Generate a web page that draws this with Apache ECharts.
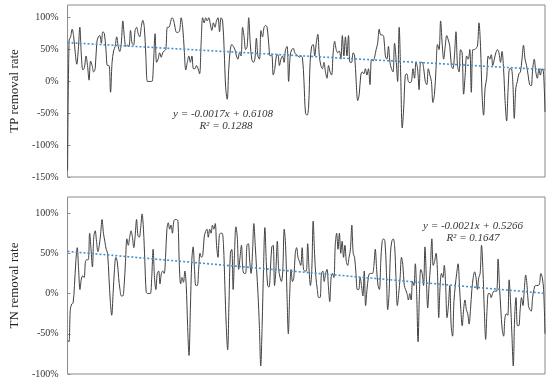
<!DOCTYPE html>
<html>
<head>
<meta charset="utf-8">
<script src="https://cdn.jsdelivr.net/npm/echarts@6/dist/echarts.min.js"></script>
<style>
  html, body { margin: 0; padding: 0; background: #fff; }
  #chart { width: 550px; height: 382px; }
</style>
</head>
<body>
<div id="chart"></div>
<script>
// TP removal rate (%) – sequential observations, left to right
const tpValues = [
  -140, 65, 70, 82, 70, 45, 27, 50, 85, 40, 18, 22, 40, 25, 2, 32, 25, 15, 20, 60,
  70, 72, 60, 78, 75, 50, 25, 25, -17, 30, 48, 55, 70, 55, 47, 60, 95, 70, 55, 57,
  55, 80, 60, 57, 80, 85, 75, 70, 85, 96, 85, 40, 0, 0, 0, 0, 30, 75, 30, 35,
  45, 38, 45, 48, 50, 85, 85, 92, 100, 97, 85, 77, 77, 80, 100, 85, 50, 18, 30, 40,
  30, 40, 20, 20, 25, 20, 12, 60, 100, 92, 100, 95, 100, 90, 80, 92, 85, 95, 100, 78,
  100, 95, 50, -10, -28, 20, 50, 58, 55, 50, 40, 35, 45, 40, 85, 70, 50, 55, 100, 60,
  35, 30, 35, 68, 40, 35, 80, 70, 85, 88, 85, 60, 40, 42, 10, 20, 40, 42, 25, 35,
  40, 30, 50, 55, 0, 40, 50, 52, 45, 42, 40, 38, 40, 37, 0, -50, -53, -40, 30, 55,
  58, 40, 60, 74, 40, 25, 20, 30, 15, 5, 25, 15, 10, 45, 63, 50, 45, 48, 35, 72,
  40, 70, 40, 72, 30, 30, 45, 40, 0, -30, -20, 10, 15, 12, 20, 10, 20, -5, 35, 32,
  38, 50, 60, 82, 73, 73, 70, 40, 35, 55, 30, 20, 15, 60, 35, 0, 85, 10, -73, -40,
  10, 12, 0, -2, 0, 20, 5, 30, 20, -13, 30, 30, 20, 0, -5, 20, 10, 0, -33, -20,
  20, 58, 50, 95, 60, 35, 55, 72, 65, 55, 25, 20, 40, 78, 25, 15, 50, 45, -20, 10,
  40, 35, 50, -17, 50, 50, 52, 55, 92, 55, -20, -53, -10, 5, 40, 35, 42, 25, 35, 45,
  50, 45, 30, 47, 20, -30, -62, -10, 20, 20, 0, -58, -10, 0, 12, 15, 35, 57, 35, 25,
  10, -5, -7, 20, 35, 15, 5, 20, 10, 20, 15, -48
];

// TN removal rate (%) – sequential observations, left to right
const tnValues = [
  -58, -60, -20, -13, -12, 10, 40, 57, 30, 5, 18, 22, 20, 40, 42, 42, 75, 55, 33, 70,
  78, 65, 52, 60, 75, 92, 75, 65, 55, 50, 20, -10, -27, 0, 30, 45, 40, 20, 5, -3,
  -3, 10, 40, 68, 60, 70, 78, 70, 57, 72, 92, 72, 70, 82, 99, 80, 40, 2, 0, 0,
  0, 20, 55, 20, 5, 25, 28, 12, 25, 28, 25, 45, 80, 88, 80, 85, 75, 90, 92, 92,
  90, 35, 12, 20, 14, 28, 10, -40, -77, -20, 40, 58, 30, 10, 10, 30, 50, 45, 48, 70,
  77, 80, 70, 80, 75, 85, 80, 87, 60, 45, 72, 75, 75, 60, 10, -40, -70, -10, 50, 55,
  5, 50, 83, 70, 30, 45, 60, 30, 25, 25, 60, 62, 40, 25, 50, 87, 60, 30, 0, -40,
  -90, -40, 30, 82, 40, 10, 8, 30, 58, 60, 10, 30, 65, 30, 20, 15, 30, 80, 60, 0,
  -50, 0, 30, 15, 20, 50, 57, 45, 40, 35, 57, 30, 28, 28, 62, 30, 10, 30, 90, 50,
  20, 5, -5, -5, 25, 28, 15, 25, 30, 10, -10, 20, 25, 20, 60, 75, 55, 75, 50, 65,
  45, 60, 40, 35, 45, 55, 85, 50, 45, 25, 5, 5, 20, 10, -3, 28, -15, 5, 20, 25,
  25, 25, 35, 55, 30, 10, 5, 40, 65, 68, 65, 30, -20, 0, 50, 65, 68, 60, 20, -15,
  0, 20, 45, 35, 10, 5, 0, -8, 0, -8, 15, 10, 37, 0, -60, 0, 30, 25, 10, 58,
  20, -18, 10, 35, 68, 35, 40, 50, 30, -30, 10, 25, 20, 35, 10, -30, -15, 10, -40, -53,
  -10, 10, 25, 37, 10, -20, -40, -20, -8, -20, -25, -38, -20, 5, 20, 27, 20, 5, 20, 25,
  60, 30, -20, -57, -20, 0, 0, -5, 0, 3, 3, 3, 43, 10, -20, -45, -53, -30, -25, -27,
  17, -10, -50, -90, -30, -5, -40, -40, -20, -5, -15, 5, 23, 10, -15, -20, -22, -5, 5, 10,
  10, 10, 12, 25, 20, 5, -50
];

// Linear trend lines (start, end) in %
const tpTrend = [60.9, 18.6];
const tnTrend = [52.4, 0.2];

// Trend equation labels
const tpEquation = ['y = -0.0017x + 0.6108', 'R² = 0.1288'];
const tnEquation = ['y = -0.0021x + 0.5266', 'R² = 0.1647'];

// Axis settings (%)
const tpAxis = { min: -150, max: 120, step: 50, name: 'TP removal rate' };
const tnAxis = { min: -100, max: 120, step: 50, name: 'TN removal rate' };

const SERIF = '"Liberation Serif", "Times New Roman", "DejaVu Serif", serif';
const toPairs = vals => vals.map((v, i) => [i, v]);

const chart = echarts.init(document.getElementById('chart'), null, { renderer: 'canvas' });

function yAxisCfg(ax, gridIndex) {
  return {
    gridIndex, type: 'value', min: ax.min, max: ax.max, interval: ax.step,
    name: ax.name, nameLocation: 'middle', nameGap: 31,
    nameTextStyle: { fontFamily: SERIF, fontSize: 13, color: '#222' },
    axisLine: { show: false },
    axisTick: { show: true, inside: true, length: 3, lineStyle: { color: '#8c8c8c' } },
    splitLine: { show: false },
    axisLabel: {
      fontFamily: SERIF, fontSize: 10, color: '#333', margin: 9,
      showMaxLabel: false,
      formatter: v => v + '%'
    }
  };
}

const option = {
  animation: false,
  backgroundColor: '#fff',
  grid: [
    { left: 46, top: 5, width: 499, height: 172, show: true, borderColor: '#8a8a8a', borderWidth: 1, backgroundColor: 'transparent' },
    { left: 46, top: 197, width: 499, height: 177, show: true, borderColor: '#8a8a8a', borderWidth: 1, backgroundColor: 'transparent' }
  ],
  xAxis: [
    { gridIndex: 0, type: 'value', min: 0, max: tpValues.length - 1, show: false },
    { gridIndex: 1, type: 'value', min: 0, max: tnValues.length - 1, show: false }
  ],
  yAxis: [yAxisCfg(tpAxis, 0), yAxisCfg(tnAxis, 1)],
  series: [
    {
      type: 'line', xAxisIndex: 0, yAxisIndex: 0, data: toPairs(tpValues),
      smooth: 0.35, showSymbol: false, lineStyle: { color: '#404040', width: 1 }, z: 2
    },
    {
      type: 'line', xAxisIndex: 0, yAxisIndex: 0,
      data: [[0, tpTrend[0]], [tpValues.length - 1, tpTrend[1]]],
      showSymbol: false, lineStyle: { color: '#4a8fc9', width: 1.6, type: [2, 2] }, z: 3
    },
    {
      type: 'line', xAxisIndex: 1, yAxisIndex: 1, data: toPairs(tnValues),
      smooth: 0.35, showSymbol: false, lineStyle: { color: '#404040', width: 1 }, z: 2
    },
    {
      type: 'line', xAxisIndex: 1, yAxisIndex: 1,
      data: [[0, tnTrend[0]], [tnValues.length - 1, tnTrend[1]]],
      showSymbol: false, lineStyle: { color: '#4a8fc9', width: 1.6, type: [2, 2] }, z: 3
    }
  ],
  graphic: [
    { type: 'text', x: 223, y: 114, style: { text: tpEquation[0], font: 'italic 11px ' + SERIF, fill: '#333', align: 'center', verticalAlign: 'middle' } },
    { type: 'text', x: 226, y: 126, style: { text: tpEquation[1], font: 'italic 11px ' + SERIF, fill: '#333', align: 'center', verticalAlign: 'middle' } },
    { type: 'text', x: 473, y: 226, style: { text: tnEquation[0], font: 'italic 11px ' + SERIF, fill: '#333', align: 'center', verticalAlign: 'middle' } },
    { type: 'text', x: 473, y: 238, style: { text: tnEquation[1], font: 'italic 11px ' + SERIF, fill: '#333', align: 'center', verticalAlign: 'middle' } }
  ]
};

chart.setOption(option);
</script>
</body>
</html>
